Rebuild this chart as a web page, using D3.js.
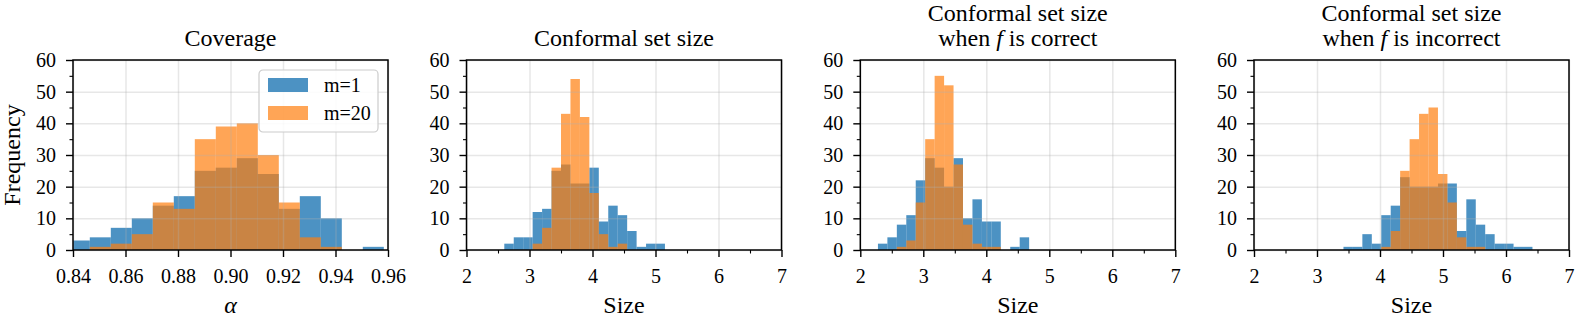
<!DOCTYPE html>
<html>
<head>
<meta charset="utf-8">
<script src="https://cdn.jsdelivr.net/npm/d3@7"></script>
<style>
body { margin: 0; background: #fff; }
.axis path { display: none; }
.axis line { stroke: #000; stroke-width: 1.4px; }
.minor line { stroke-width: 1.1px; }
.grid line { stroke: #b0b0b0; stroke-opacity: 0.3; stroke-width: 1.5px; }
</style>
</head>
<body>
<div id="content"></div>
<script>
// bin edges
var coverageEdges = [0.8384, 0.8464, 0.8544, 0.8624, 0.8704, 0.8784, 0.8864, 0.8944, 0.9024, 0.9104, 0.9184, 0.9264, 0.9344, 0.9424, 0.9504, 0.9584];
var sizeEdges = [2.60, 2.75, 2.90, 3.05, 3.20, 3.35, 3.50, 3.65, 3.80, 3.95, 4.10, 4.25, 4.40, 4.55, 4.70, 4.85, 5.00, 5.15];
var correctEdges = [2.28, 2.43, 2.58, 2.73, 2.88, 3.03, 3.18, 3.33, 3.48, 3.63, 3.78, 3.93, 4.08, 4.23, 4.38, 4.53, 4.68];
var incorrectEdges = [3.42, 3.57, 3.72, 3.87, 4.02, 4.17, 4.32, 4.47, 4.62, 4.77, 4.92, 5.07, 5.22, 5.37, 5.52, 5.67, 5.82, 5.97, 6.12, 6.27, 6.42];

// counts per bin
var coverageM1  = [3, 4, 7, 10, 14, 17, 25, 26, 29, 24, 13, 17, 10, 0, 1];
var coverageM20 = [0, 1, 2, 5, 15, 13, 35, 39, 40, 30, 15, 4, 1, 0, 0];
var sizeM1  = [2, 4, 4, 12, 13, 25, 27, 21, 21, 26, 9, 14, 11, 6, 1, 2, 2];
var sizeM20 = [0, 0, 0, 2, 7, 26, 43, 54, 42, 18, 5, 1, 2, 0, 0, 0, 0];
var correctM1  = [2, 4, 8, 11, 22, 29, 26, 20, 29, 10, 16, 9, 9, 0, 1, 4];
var correctM20 = [0, 0, 1, 3, 15, 35, 55, 52, 27, 8, 2, 1, 1, 0, 0, 0];
var incorrectM1  = [1, 1, 5, 2, 11, 14, 23, 20, 20, 20, 21, 21, 6, 16, 8, 5, 2, 2, 1, 1];
var incorrectM20 = [0, 0, 0, 0, 1, 6, 25, 35, 43, 45, 24, 15, 4, 1, 1, 0, 0, 0, 0, 0];

// ticks
var coverageTicks = [0.84, 0.86, 0.88, 0.90, 0.92, 0.94, 0.96];
var sizeTicks = [2, 3, 4, 5, 6, 7];
var sizeMinorTicks = [2.5, 3.5, 4.5, 5.5, 6.5];
var freqTicks = [0, 10, 20, 30, 40, 50, 60];
var freqMinorTicks = [5, 15, 25, 35, 45, 55];

var seriesNames = ["m=1", "m=20"];
var blue = "#1f77b4", orange = "#ff7f0e";
var serifFont = "Liberation Serif, DejaVu Serif, serif";

var panels = [
  {title: ["Coverage"], xlabel: "α", edges: coverageEdges, m1: coverageM1, m20: coverageM20,
   xdomain: [0.84, 0.96], ticks: coverageTicks, minor: [], fmt: d3.format(".2f"), left: 73, legend: true},
  {title: ["Conformal set size"], xlabel: "Size", edges: sizeEdges, m1: sizeM1, m20: sizeM20,
   xdomain: [2, 7], ticks: sizeTicks, minor: sizeMinorTicks, fmt: d3.format("d"), left: 466.5},
  {title: ["Conformal set size", "when |f| is correct"], xlabel: "Size", edges: correctEdges, m1: correctM1, m20: correctM20,
   xdomain: [2, 7], ticks: sizeTicks, minor: sizeMinorTicks, fmt: d3.format("d"), left: 860.3},
  {title: ["Conformal set size", "when |f| is incorrect"], xlabel: "Size", edges: incorrectEdges, m1: incorrectM1, m20: incorrectM20,
   xdomain: [2, 7], ticks: sizeTicks, minor: sizeMinorTicks, fmt: d3.format("d"), left: 1254}
];

var W = 1577, H = 321;
var plotTop = 60, width = 315, height = 190;

var svg = d3.select("#content").append("svg")
  .attr("width", W)
  .attr("height", H)
  .attr("font-family", serifFont);

function bins(edges, counts) {
  return counts.map(function(c, i) {
    return {x0: edges[i], x1: edges[i + 1], n: c};
  });
}

panels.forEach(function(p, pi) {
  var g = svg.append("g")
    .attr("transform", "translate(" + p.left + "," + plotTop + ")");

  var x = d3.scaleLinear().domain(p.xdomain).range([0, width]);
  var y = d3.scaleLinear().domain([0, 60]).range([height, 0]);

  g.append("clipPath").attr("id", "clip" + pi)
    .append("rect").attr("width", width).attr("height", height);

  var plot = g.append("g").attr("clip-path", "url(#clip" + pi + ")");

  [[p.m1, blue, 0.8], [p.m20, orange, 0.7]].forEach(function(s) {
    plot.append("g").selectAll("rect")
      .data(bins(p.edges, s[0]).filter(function(d) { return d.n > 0; }))
      .enter().append("rect")
      .attr("x", function(d) { return x(d.x0); })
      .attr("width", function(d) { return x(d.x1) - x(d.x0); })
      .attr("y", function(d) { return y(d.n); })
      .attr("height", function(d) { return height - y(d.n); })
      .attr("fill", s[1])
      .attr("fill-opacity", s[2]);
  });

  // grid on top of the bars
  g.append("g").attr("class", "grid")
    .attr("transform", "translate(0," + height + ")")
    .call(d3.axisBottom(x).tickValues(p.ticks).tickSize(-height).tickFormat(""))
    .select(".domain").remove();
  g.append("g").attr("class", "grid")
    .call(d3.axisLeft(y).tickValues(freqTicks).tickSize(-width).tickFormat(""))
    .select(".domain").remove();

  // axes
  var xa = g.append("g").attr("class", "axis")
    .attr("transform", "translate(0," + height + ")")
    .call(d3.axisBottom(x).tickValues(p.ticks).tickSize(7).tickPadding(12).tickFormat(p.fmt));
  if (p.minor.length) {
    g.append("g").attr("class", "axis minor")
      .attr("transform", "translate(0," + height + ")")
      .call(d3.axisBottom(x).tickValues(p.minor).tickSize(3.5).tickFormat(""));
  }
  var ya = g.append("g").attr("class", "axis")
    .call(d3.axisLeft(y).tickValues(freqTicks).tickSize(7).tickPadding(10));
  g.append("g").attr("class", "axis minor")
    .call(d3.axisLeft(y).tickValues(freqMinorTicks).tickSize(3.5).tickFormat(""));
  [xa, ya].forEach(function(a) {
    a.attr("font-family", serifFont).attr("font-size", 20);
    a.selectAll("text").attr("fill", "#000");
  });

  g.append("rect")
    .attr("width", width)
    .attr("height", height)
    .attr("fill", "none")
    .attr("stroke", "#000")
    .attr("stroke-width", 1.5);

  // title
  var lines = p.title;
  lines.forEach(function(line, li) {
    var t = g.append("text")
      .attr("x", width / 2)
      .attr("y", (lines.length == 1 ? 45.5 : (li == 0 ? 21 : 45.5)) - plotTop)
      .attr("text-anchor", "middle")
      .attr("font-family", serifFont)
      .attr("font-size", 24);
    line.split("|").forEach(function(part, k) {
      t.append("tspan").text(part)
        .attr("font-style", k % 2 ? "italic" : "normal");
    });
  });

  g.append("text")
    .attr("x", width / 2)
    .attr("y", 313 - plotTop)
    .attr("text-anchor", "middle")
    .attr("font-family", serifFont)
    .attr("font-size", 24)
    .attr("font-style", p.xlabel == "α" ? "italic" : "normal")
    .text(p.xlabel);

  if (pi == 0) {
    g.append("text")
      .attr("transform", "translate(" + (20 - p.left) + "," + (height / 2) + ") rotate(-90)")
      .attr("text-anchor", "middle")
      .attr("font-family", serifFont)
      .attr("font-size", 24)
      .text("Frequency");
  }

  if (p.legend) {
    var lg = g.append("g").attr("transform", "translate(" + (259 - p.left) + "," + (70 - plotTop) + ")");
    lg.append("rect")
      .attr("width", 119).attr("height", 62)
      .attr("rx", 4)
      .attr("fill", "#fff").attr("fill-opacity", 0.85)
      .attr("stroke", "#cccccc").attr("stroke-width", 1.2);
    [[blue, 0.8], [orange, 0.7]].forEach(function(s, i) {
      lg.append("rect")
        .attr("x", 9).attr("y", 8 + i * 28)
        .attr("width", 40).attr("height", 14)
        .attr("fill", s[0]).attr("fill-opacity", s[1]);
      lg.append("text")
        .attr("x", 65).attr("y", 22 + i * 28)
        .attr("font-family", serifFont)
        .attr("font-size", 20)
        .text(seriesNames[i]);
    });
  }
});
</script>
</body>
</html>
